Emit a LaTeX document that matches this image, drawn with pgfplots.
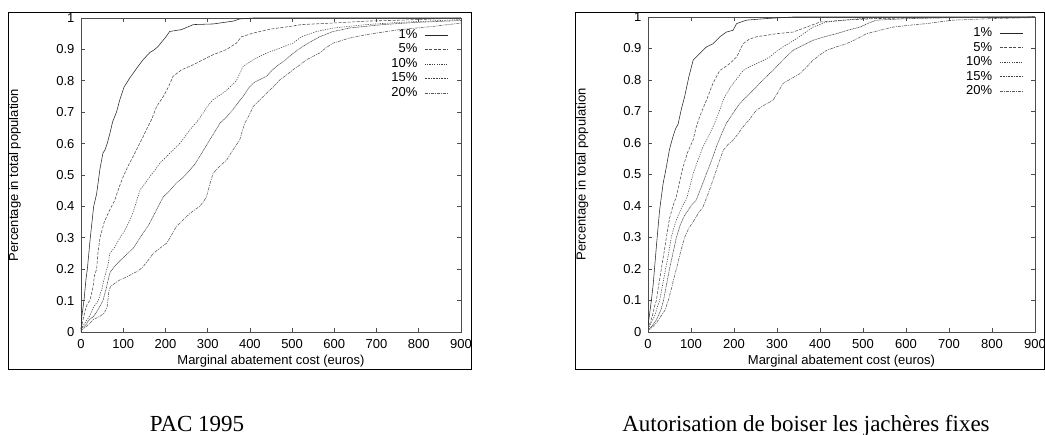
\documentclass[border=0pt]{standalone}
\usepackage{fontspec}
\setmainfont{Liberation Serif}
\newfontfamily\hv{Liberation Sans}
\usepackage{pgfplots}
\pgfplotsset{compat=1.18}

\pgfplotsset{
  cdf/.style={
    scale only axis, width=380pt, height=314pt,
    xmin=0, xmax=900, ymin=0, ymax=1,
    xtick={0,100,...,900}, ytick={0,0.1,...,1},
    yticklabels={0,0.1,0.2,0.3,0.4,0.5,0.6,0.7,0.8,0.9,1},
    tick align=inside, major tick length=4pt,
    axis line style={black!70, line width=0.6pt},
    tick style={black!70, line width=0.6pt},
    /pgf/number format/assume math mode=true,
    ticklabel style={font=\hv\fontsize{13}{13}\selectfont},
    yticklabel style={xshift=-3pt},
    xticklabel style={yshift=-4pt},
    xlabel={Marginal abatement cost (euros)},
    ylabel={Percentage in total population},
    every axis x label/.style={at={(axis description cs:0.5,0)}, anchor=north, inner sep=0pt, yshift=-23pt,
      font=\hv\fontsize{13}{13}\selectfont},
    legend plot pos=right,
    legend cell align=right,
    legend image code/.code={\draw[##1] (0pt,0pt) -- (23pt,0pt);},
    legend style={draw=none, fill=none, anchor=north east, inner sep=0pt,
      row sep=0pt, column sep=6pt,
      nodes={inner sep=1pt, text height=9.5pt, text depth=3pt},
      font=\hv\fontsize{13}{13}\selectfont},
  },
  p1/.style={black!85, line width=0.55pt},
  p5/.style={black!70, line width=0.55pt, dash pattern=on 3pt off 1.5pt},
  p10/.style={black!75, line width=0.55pt, dash pattern=on 1.2pt off 1.2pt},
  p15/.style={black!75, line width=0.55pt, dash pattern=on 1pt off 0.6pt},
  p20/.style={black!65, line width=0.55pt, dash pattern=on 3pt off 1pt on 1pt off 1pt},
}

\begin{document}
\begin{tikzpicture}[x=1pt,y=1pt]
\useasboundingbox (0,0) rectangle (1045,435);
\draw[line width=0.8pt] (8,66) rectangle (471,423);
\draw[line width=0.8pt] (575,66) rectangle (1044.5,423);

% PAC 1995
\begin{axis}[cdf, at={(81pt,103pt)}, anchor=south west,
  every axis y label/.style={at={(axis description cs:-0.174,0.5)}, rotate=90, anchor=center,
    font=\hv\fontsize{13}{13}\selectfont},
  legend style={at={(rel axis cs:0.966,0.969)}}]
\addplot[p1] coordinates {(0,0) (2,0.05) (7,0.1) (12,0.17) (15,0.2) (22,0.3) (30,0.4) (37,0.44) (45,0.52) (52,0.57) (57,0.58) (62,0.6) (68,0.63) (75,0.67) (84,0.70) (92,0.74) (102,0.78) (116,0.81) (132,0.84) (147,0.867) (163,0.89) (175,0.90) (183,0.91) (195,0.93) (199,0.936) (210,0.957) (238,0.963) (266,0.979) (313,0.981) (360,0.99) (376,0.997) (408,1.0) (900,1.0)};
\addlegendentry{1\%}
\addplot[p5] coordinates {(0,0.01) (5,0.04) (10,0.07) (15,0.09) (21,0.1) (28,0.14) (32,0.18) (37,0.2) (40,0.25) (45,0.3) (55,0.35) (65,0.38) (80,0.42) (90,0.46) (100,0.495) (112,0.53) (124,0.56) (135,0.59) (147.5,0.623) (157,0.65) (167,0.676) (179,0.718) (195,0.75) (207,0.78) (218,0.814) (238,0.835) (266,0.851) (289,0.867) (313,0.883) (345,0.90) (368,0.92) (380,0.94) (408,0.952) (451,0.965) (494,0.973) (522,0.979) (597,0.984) (676,0.99) (755,0.993) (900,1.0)};
\addlegendentry{5\%}
\addplot[p10] coordinates {(0,0.01) (10,0.03) (20,0.05) (30,0.08) (41,0.1) (50,0.14) (55,0.17) (61,0.2) (65,0.22) (68,0.25) (80,0.27) (92,0.3) (100,0.315) (110,0.34) (120,0.368) (130,0.41) (140,0.453) (150,0.47) (163,0.495) (175,0.515) (187,0.538) (200,0.555) (211,0.57) (234,0.60) (258,0.644) (275,0.67) (289,0.697) (300,0.72) (313,0.74) (330,0.755) (345,0.77) (360,0.79) (368,0.80) (384,0.846) (408,0.867) (439,0.888) (471,0.904) (502,0.92) (522,0.94) (558,0.957) (597,0.968) (676,0.979) (755,0.986) (900,0.995)};
\addlegendentry{10\%}
\addplot[p15] coordinates {(0,0.01) (10,0.02) (20,0.04) (30,0.05) (40,0.07) (52,0.1) (60,0.14) (65,0.17) (69,0.19) (80,0.21) (95,0.23) (110,0.25) (124,0.267) (135,0.29) (147,0.315) (160,0.34) (171,0.368) (183,0.40) (195,0.43) (210,0.45) (226,0.474) (240,0.49) (258,0.516) (270,0.535) (281,0.559) (293,0.585) (305,0.612) (318,0.64) (329,0.665) (345,0.685) (360,0.708) (372,0.73) (384,0.75) (396,0.775) (408,0.793) (425,0.805) (439,0.814) (450,0.83) (463,0.846) (480,0.862) (494,0.878) (510,0.895) (526,0.91) (545,0.925) (565,0.94) (597,0.957) (636,0.968) (715,0.979) (794,0.986) (900,0.992)};
\addlegendentry{15\%}
\addplot[p20] coordinates {(0,0.005) (15,0.02) (30,0.04) (45,0.05) (55,0.06) (62,0.08) (66,0.13) (70,0.145) (80,0.155) (92,0.166) (108,0.175) (124,0.187) (136,0.195) (147,0.208) (160,0.23) (171,0.25) (185,0.265) (203,0.283) (215,0.31) (226,0.336) (238,0.352) (250,0.368) (265,0.385) (281,0.40) (290,0.415) (297,0.43) (305,0.47) (313,0.506) (330,0.53) (345,0.548) (360,0.58) (376,0.612) (382,0.64) (388,0.665) (398,0.69) (408,0.718) (424,0.74) (439,0.76) (455,0.78) (471,0.803) (488,0.82) (502,0.835) (518,0.85) (534,0.867) (550,0.878) (565,0.888) (580,0.905) (597,0.92) (636,0.936) (676,0.947) (715,0.955) (755,0.963) (833,0.973) (900,0.984)};
\addlegendentry{20\%}
\end{axis}

% Autorisation de boiser les jacheres fixes
\begin{axis}[cdf, at={(648pt,103pt)}, anchor=south west, width=387pt, height=315pt,
  every axis y label/.style={at={(axis description cs:-0.170,0.5)}, rotate=90, anchor=center,
    font=\hv\fontsize{13}{13}\selectfont},
  legend style={at={(rel axis cs:0.969,0.972)}}]
\addplot[p1] coordinates {(0,0.02) (4,0.06) (7.8,0.1) (12,0.15) (15.5,0.207) (20,0.28) (27,0.387) (35,0.47) (42.7,0.524) (50,0.58) (58,0.62) (64,0.645) (70,0.66) (78,0.71) (85,0.746) (95,0.81) (105,0.863) (120,0.884) (136,0.905) (151,0.915) (167,0.937) (182,0.952) (198,0.958) (206,0.979) (229,0.99) (275,0.995) (337,1.0) (900,1.0)};
\addlegendentry{1\%}
\addplot[p5] coordinates {(0,0.01) (5,0.03) (10,0.05) (15,0.08) (19.4,0.1) (25,0.15) (31,0.2) (37,0.25) (42.7,0.3) (50,0.36) (58,0.4) (66,0.43) (74,0.48) (81.5,0.524) (92,0.57) (105,0.61) (112,0.65) (120,0.683) (128,0.71) (136,0.736) (144,0.765) (151,0.789) (159,0.81) (167,0.83) (178,0.84) (190,0.852) (206,0.873) (214,0.895) (221,0.915) (236,0.93) (252,0.937) (299,0.947) (337,0.952) (369,0.968) (400,0.984) (454,0.99) (531,0.995) (648,0.998) (900,1.0)};
\addlegendentry{5\%}
\addplot[p10] coordinates {(0,0.01) (8,0.03) (15,0.05) (22,0.08) (27,0.1) (34,0.15) (41,0.2) (48,0.25) (54,0.3) (62,0.34) (70,0.37) (80,0.4) (89,0.42) (97,0.46) (105,0.503) (116,0.545) (128,0.588) (140,0.62) (151,0.651) (163,0.69) (175,0.736) (186,0.765) (198,0.789) (210,0.81) (221,0.83) (236,0.842) (252,0.852) (268,0.862) (283,0.873) (298,0.89) (314,0.905) (330,0.918) (345,0.931) (365,0.95) (384,0.968) (415,0.984) (493,0.995) (570,0.998) (900,1.0)};
\addlegendentry{10\%}
\addplot[p15] coordinates {(0,0.005) (10,0.02) (20,0.04) (30,0.07) (36,0.1) (43,0.15) (50,0.2) (58,0.25) (66,0.3) (75,0.34) (85,0.37) (100,0.4) (112.5,0.42) (124,0.46) (136,0.503) (148,0.545) (159,0.588) (170,0.625) (182,0.662) (198,0.695) (213,0.725) (228,0.745) (244,0.767) (260,0.79) (275,0.81) (290,0.83) (306,0.852) (322,0.875) (337,0.894) (360,0.91) (384,0.926) (410,0.937) (438,0.947) (465,0.958) (493,0.968) (512,0.98) (531,0.99) (609,0.995) (725,0.998) (900,1.0)};
\addlegendentry{15\%}
\addplot[p20] coordinates {(0,0.005) (10,0.015) (20,0.03) (30,0.05) (40,0.07) (47,0.1) (55,0.14) (60,0.17) (66,0.2) (75,0.25) (85,0.3) (95,0.33) (105,0.35) (116,0.375) (128,0.397) (140,0.44) (151,0.482) (163,0.53) (175,0.577) (186,0.595) (198,0.609) (210,0.63) (221,0.651) (236,0.675) (252,0.704) (270,0.72) (291,0.736) (302,0.76) (314,0.789) (334,0.805) (353,0.82) (368,0.84) (384,0.863) (400,0.88) (415,0.894) (438,0.905) (461,0.915) (485,0.93) (508,0.947) (540,0.958) (570,0.968) (609,0.974) (648,0.979) (680,0.985) (710,0.99) (803,0.995) (900,0.998)};
\addlegendentry{20\%}
\end{axis}

\node[anchor=base, font=\fontsize{23}{23}\selectfont, inner sep=0pt] at (197,3) {PAC 1995};
\node[anchor=base, font=\fontsize{23}{23}\selectfont, inner sep=0pt] at (806,3) {Autorisation de boiser les jachères fixes};
\end{tikzpicture}
\end{document}
